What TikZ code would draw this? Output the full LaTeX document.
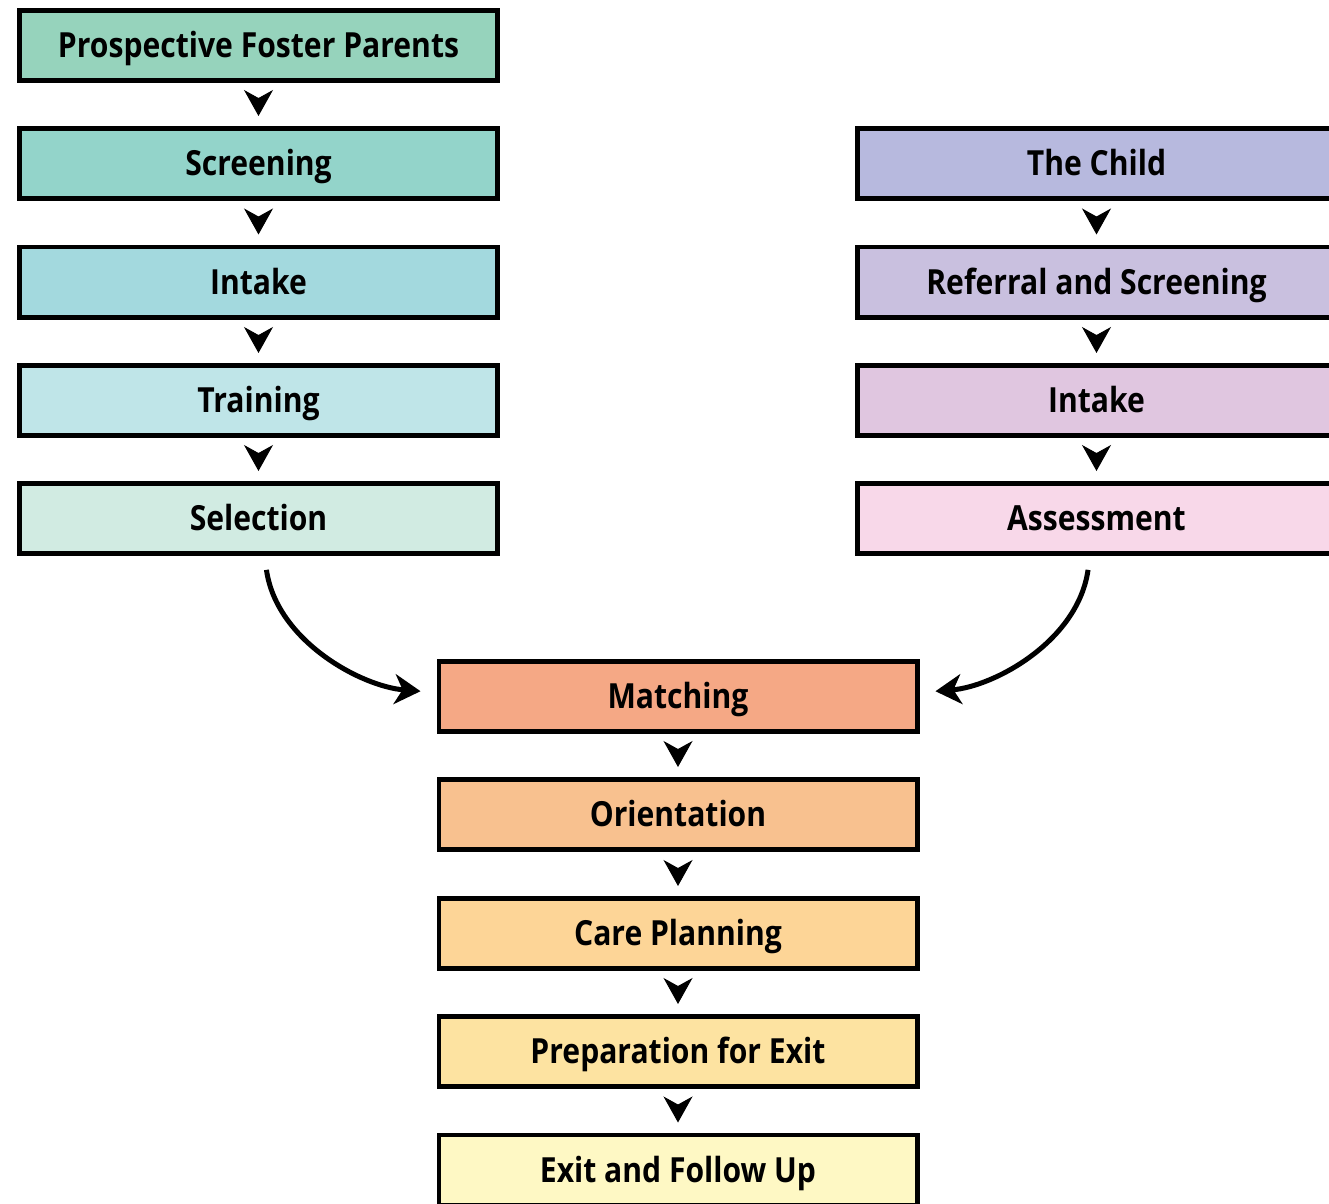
\documentclass[tikz,border=0pt]{standalone}
\usepackage{fontspec}
\setmainfont{Open Sans}[FakeStretch=0.87]
\usetikzlibrary{arrows.meta}

\definecolor{parentsfill}{HTML}{96D3BC}
\definecolor{screenfill}{HTML}{93D4CA}
\definecolor{intakeLfill}{HTML}{A3D9DE}
\definecolor{trainfill}{HTML}{BFE5E8}
\definecolor{selectfill}{HTML}{D1EBE2}
\definecolor{childfill}{HTML}{B7B9DE}
\definecolor{referfill}{HTML}{C9C0DF}
\definecolor{intakeRfill}{HTML}{E0C6E0}
\definecolor{assessfill}{HTML}{F8D8E9}
\definecolor{matchfill}{HTML}{F5A885}
\definecolor{orientfill}{HTML}{F8C18F}
\definecolor{carefill}{HTML}{FDD597}
\definecolor{prepfill}{HTML}{FDE3A1}
\definecolor{exitfill}{HTML}{FEF8C4}

\tikzset{
    stage/.style={draw=black, line width=2.4pt, rectangle,
        minimum width=239.1pt, minimum height=35.1pt,
        font=\fontsize{17.3}{19}\selectfont\bfseries,
        text height=12.4pt, text depth=0pt},
    nextarrow/.style={draw=white, -{Stealth[length=13pt, width=14.5pt, inset=4pt, black]},
        line width=0.5pt, shorten <=3.5pt, shorten >=5pt},
    bendarrow/.style={-{Stealth[length=13pt, width=15pt, inset=4pt]},
        line width=2.5pt, shorten <=7pt, shorten >=8pt}
}

\begin{document}
\begin{tikzpicture}[x=0.5pt, y=-0.5pt]
    \useasboundingbox (0,0) rectangle (1329,1204);

    % foster parents column
    \node[stage, fill=parentsfill] (parents) at (258.5,45.5) {Prospective Foster Parents};
    \node[stage, fill=screenfill] (screen) at (258.5,163.5) {Screening};
    \node[stage, fill=intakeLfill] (intakeL) at (258.5,282) {Intake};
    \node[stage, fill=trainfill] (train) at (258.5,400.5) {Training};
    \node[stage, fill=selectfill] (select) at (258.5,518.5) {Selection};

    % child column
    \node[stage, fill=childfill] (child) at (1096.5,163.5) {The Child};
    \node[stage, fill=referfill] (refer) at (1096.5,282) {Referral and Screening};
    \node[stage, fill=intakeRfill] (intakeR) at (1096.5,400.5) {Intake};
    \node[stage, fill=assessfill] (assess) at (1096.5,518.5) {Assessment};

    % common column
    \node[stage, fill=matchfill] (match) at (678,696.5) {Matching};
    \node[stage, fill=orientfill] (orient) at (678,814.5) {Orientation};
    \node[stage, fill=carefill] (care) at (678,933.5) {Care Planning};
    \node[stage, fill=prepfill] (prep) at (678,1051.5) {Preparation for Exit};
    \node[stage, fill=exitfill] (exit) at (678,1170) {Exit and Follow Up};

    % arrows
    \draw[nextarrow] (parents) -- (screen);
    \draw[nextarrow] (screen) -- (intakeL);
    \draw[nextarrow] (intakeL) -- (train);
    \draw[nextarrow] (train) -- (select);
    \draw[nextarrow] (child) -- (refer);
    \draw[nextarrow] (refer) -- (intakeR);
    \draw[nextarrow] (intakeR) -- (assess);
    \draw[nextarrow] (match) -- (orient);
    \draw[nextarrow] (orient) -- (care);
    \draw[nextarrow] (care) -- (prep);
    \draw[nextarrow] (prep) -- (exit);

    % the two columns meet
    \draw[bendarrow] ([xshift=3pt]select.south) .. controls +(12,85) and +(-75,-6) .. ([yshift=2pt]match.west);
    \draw[bendarrow] ([xshift=-3.25pt]assess.south) .. controls +(-12,85) and +(75,-6) .. ([yshift=2pt]match.east);
\end{tikzpicture}
\end{document}
